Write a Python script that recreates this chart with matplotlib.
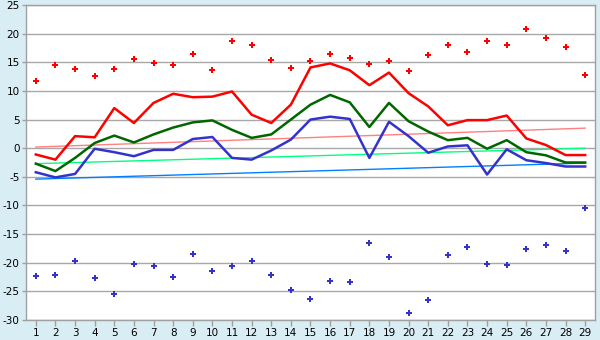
import matplotlib
matplotlib.use("Agg")
import matplotlib.pyplot as plt
import numpy as np

days = list(range(1, 30))

abs_max = [11.7, 14.5, 13.8, 12.6, 13.8, 15.6, 14.9, 14.5, 16.5, 13.7,
           18.7, 18.0, 15.4, 14.0, 15.2, 16.5, 15.7, 14.7, 15.2, 13.4,
           16.3, 18.0, 16.8, 18.7, 18.0, 20.8, 19.2, 17.7, 12.8]
abs_min = [-22.3, -22.1, -19.7, -22.7, -25.5, -20.2, -20.6, -22.5, -18.5, -21.4,
           -20.6, -19.7, -22.1, -24.8, -26.3, -23.2, -23.4, -16.6, -19.0, -28.8,
           -26.5, -18.6, -17.3, -20.2, -20.4, -17.6, -16.9, -18.0, -10.4]
mean_max = [-1.1, -2.0, 2.1, 1.9, 7.0, 4.4, 7.9, 9.5, 8.9, 9.0,
            9.9, 5.85, 4.4, 7.6, 14.1, 14.8, 13.6, 11.0, 13.2, 9.6,
            7.3, 4.0, 4.9, 4.9, 5.7, 1.7, 0.55, -1.2, -1.2]
mean_avg = [-2.7, -4.0, -1.7, 0.9, 2.2, 1.0, 2.4, 3.6, 4.5, 4.85,
            3.2, 1.8, 2.4, 5.0, 7.6, 9.3, 8.0, 3.7, 7.9, 4.7,
            2.9, 1.4, 1.8, -0.1, 1.4, -0.7, -1.25, -2.5, -2.5]
mean_min = [-4.2, -5.1, -4.5, -0.1, -0.7, -1.4, -0.3, -0.3, 1.6, 1.95,
            -1.7, -2.0, -0.4, 1.5, 5.0, 5.5, 5.1, -1.7, 4.6, 2.1,
            -0.8, 0.3, 0.5, -4.6, -0.2, -2.1, -2.6, -3.2, -3.2]

trend_days = [1, 29]
trend_max = [0.2, 3.5]
trend_avg = [-2.7, 0.0]
trend_min = [-5.4, -2.6]

yticks = list(range(-30, 30, 5))

bg = '#D9EEF4'
fig = plt.figure(figsize=(6, 3.4), dpi=100, facecolor=bg)
ax = fig.add_axes([26/600, 1 - 320/340, (595 - 26)/600, (320 - 5)/340])
ax.set_facecolor('white')

ax.plot(trend_days, trend_max, color='#FF8080', lw=1.0, zorder=2)
ax.plot(trend_days, trend_avg, color='#00FF80', lw=1.0, zorder=2)
ax.plot(trend_days, trend_min, color='#0080FF', lw=1.0, zorder=2)

ax.plot(days, mean_max, color='#FF0000', lw=1.8, zorder=3)
ax.plot(days, mean_avg, color='#006600', lw=1.8, zorder=3)
ax.plot(days, mean_min, color='#3333CC', lw=1.8, zorder=3)

ax.plot(days, abs_max, linestyle='none', marker='P', ms=4.6, color='#FF0000',
        mew=0, zorder=4)
ax.plot(days, abs_min, linestyle='none', marker='P', ms=4.6, color='#3333CC',
        mew=0, zorder=4)

ax.set_xlim(0.5, 29.5)
ax.set_ylim(-30, 25)
ax.set_xticks(days)
ax.set_xticklabels([str(d) for d in days])
ax.set_yticks(yticks)
ax.set_yticklabels([str(v) for v in yticks])
ax.grid(axis='y', color='#A8A8A8', lw=1.0, zorder=1)
ax.set_axisbelow(True)
for s in ax.spines.values():
    s.set_color('#A0A0A0')
    s.set_linewidth(1.0)
ax.tick_params(axis='both', labelsize=7.5, colors='#A0A0A0', labelcolor='black',
               length=3, width=1, pad=2)
ax.tick_params(axis='y', pad=1.5)
ax.tick_params(axis='x', length=4)

fig.savefig('out.png', dpi=100, facecolor=bg)
